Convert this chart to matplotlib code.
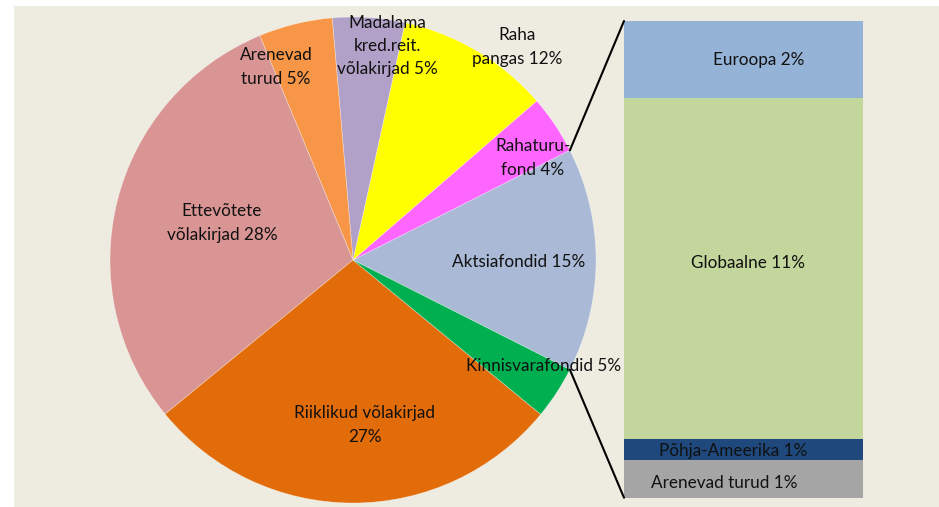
import numpy as np
import matplotlib
matplotlib.use("Agg")
import matplotlib.pyplot as plt
from matplotlib.patches import Rectangle, ConnectionPatch

# ---------------- data ----------------
pie_labels = ["Aktsiafondid 15%", "Rahaturu-\nfond 4%", "Raha\npangas 12%",
              "Madalama\nkred.reit.\nvõlakirjad 5%", "Arenevad\nturud 5%",
              "Ettevõtete\nvõlakirjad 28%", "Riiklikud võlakirjad\n27%",
              "Kinnisvarafondid 5%"]
pie_values = [14.9, 3.9, 10.2, 4.8, 4.9, 29.65, 28.1, 3.5]
pie_colors = ["#A9B9D6", "#FF66FF", "#FFFF00", "#B1A0C7", "#F79646",
              "#D99594", "#E36C0A", "#00B050"]

bar_labels = ["Arenevad turud 1%", "Põhja-Ameerika 1%", "Globaalne 11%", "Euroopa 2%"]
bar_values = [1.18, 0.66, 10.67, 2.40]
bar_colors = ["#A5A5A5", "#1F497D", "#C3D69B", "#95B3D7"]

W, H = 939, 507
BG = "#EEECE1"
FONT = "Lato"
FS = 12.3

fig = plt.figure(figsize=(W / 100, H / 100), dpi=100)
fig.patch.set_facecolor("white")
fig.patches.append(Rectangle((14 / W, 0), 1 - 14 / W, 1 - 6 / H,
                             transform=fig.transFigure, facecolor=BG,
                             edgecolor="none", zorder=-10))

ax = fig.add_axes([0, 0, 1, 1])
ax.set_facecolor("none")

cx, cy, r = 353, H - 260, 243
start = -pie_values[0] * 3.6 / 2
wedges, _ = ax.pie(pie_values, colors=pie_colors, startangle=start,
                   counterclock=True, center=(cx, cy), radius=r,
                   wedgeprops=dict(linewidth=0.4, edgecolor=(1, 1, 1, 0.5)))
ax.set_xlim(0, W)
ax.set_ylim(0, H)
ax.set_aspect("equal")
ax.axis("off")

# label positions (pixel coords from top)
pie_label_pos = [(519, 262), (533, 158), (517, 47), (387, 46), (276, 67),
                 (222, 223), (365, 425), (544, 366)]
for lab, (x, y) in zip(pie_labels, pie_label_pos):
    ax.text(x, H - y, lab, ha="center", va="center", fontsize=FS,
            family=FONT, color="#111111", linespacing=1.55)

# bar of pie
bx0, bx1, by0, by1 = 624, 863, 21, 497.7
bax = fig.add_axes([bx0 / W, (H - by1) / H, (bx1 - bx0) / W, (by1 - by0) / H])
bax.set_facecolor("none")
bottom = 0
for v, c in zip(bar_values, bar_colors):
    bax.bar(0.5, v, width=1, bottom=bottom, color=c, edgecolor="none")
    bottom += v
total = sum(bar_values)
bax.set_xlim(0, 1)
bax.set_ylim(0, total)
bax.axis("off")

bar_label_pos = [(724, 483), (733, 451), (748, 263), (759, 60)]
for lab, (x, y) in zip(bar_labels, bar_label_pos):
    bax.text((x - bx0) / (bx1 - bx0), (by1 - y) / (by1 - by0), lab,
             transform=bax.transAxes, ha="center", va="center", fontsize=FS,
             family=FONT, color="#111111")

# connector lines
a1 = np.deg2rad(start + pie_values[0] * 3.6)
a0 = np.deg2rad(start)
for ang, yb in [(a1, total), (a0, 0)]:
    p = (cx + r * np.cos(ang), cy + r * np.sin(ang))
    con = ConnectionPatch(xyA=p, coordsA=ax.transData, xyB=(0, yb),
                          coordsB=bax.transData, color="black", linewidth=1.5)
    fig.add_artist(con)

fig.savefig("out.png", dpi=100, facecolor=fig.get_facecolor())
